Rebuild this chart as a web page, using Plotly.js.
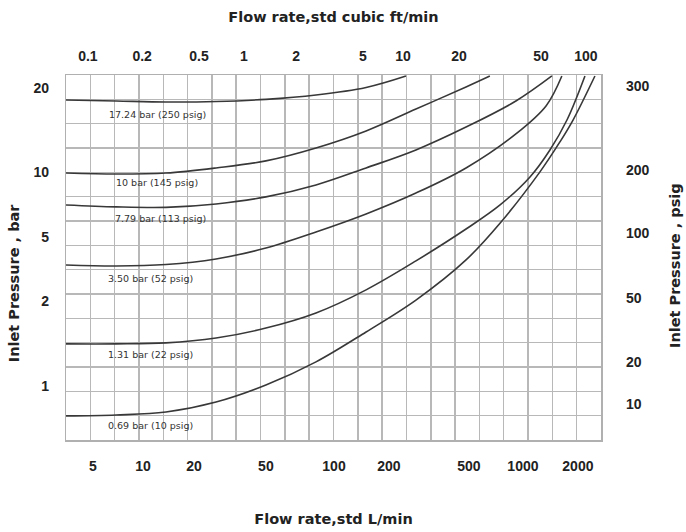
<!DOCTYPE html>
<html>
<head>
<meta charset="utf-8">
<script src="https://cdn.plot.ly/plotly-3.0.1.min.js"></script>
<style>html,body{margin:0;padding:0;background:#fff;}#chart{width:686px;height:532px;}</style>
</head>
<body>
<div id="chart"></div>
<script>
// Chart grid: 22 columns x 15 rows (schematic chart, values read in grid units)
const curveNames = ["17.24 bar (250 psig)", "10 bar (145 psig)", "7.79 bar (113 psig)", "3.50 bar (52 psig)", "1.31 bar (22 psig)", "0.69 bar (10 psig)"];

const c1x = [0, 2.06, 4.11, 6.17, 8.22, 10.28, 12.34, 13.98];
const c1y = [13.97, 13.93, 13.89, 13.91, 14.00, 14.18, 14.49, 14.96];

const c2x = [0, 2.06, 4.11, 6.17, 8.22, 10.28, 12.34, 14.39, 16.45, 17.43];
const c2y = [10.97, 10.93, 10.97, 11.18, 11.47, 12.00, 12.70, 13.60, 14.51, 14.96];

const c3x = [0, 2.06, 4.11, 6.17, 8.22, 10.28, 12.34, 14.39, 16.45, 18.50, 19.98];
const c3y = [9.66, 9.58, 9.56, 9.70, 9.99, 10.48, 11.18, 11.92, 12.86, 13.93, 14.96];

const c4x = [0, 2.06, 4.11, 6.17, 8.22, 10.28, 12.34, 14.39, 16.45, 18.50, 19.74, 20.39];
const c4y = [7.19, 7.15, 7.21, 7.44, 7.89, 8.55, 9.29, 10.15, 11.18, 12.58, 13.73, 14.96];

const c5x = [0, 2.06, 4.11, 6.17, 8.22, 10.28, 12.34, 14.39, 16.45, 17.85, 19.08, 19.90, 20.60, 21.34];
const c5y = [3.95, 3.95, 3.99, 4.19, 4.60, 5.22, 6.17, 7.36, 8.67, 9.66, 10.81, 11.92, 13.15, 14.96];

const c6x = [0, 2.06, 4.11, 6.17, 8.22, 10.28, 12.34, 14.39, 16.45, 17.89, 19.49, 20.31, 20.85, 21.75];
const c6y = [0.99, 1.03, 1.15, 1.56, 2.26, 3.21, 4.44, 5.75, 7.40, 8.96, 11.02, 12.25, 13.15, 14.96];

// curve label anchor positions (grid units)
const labelX = [3.76, 3.75, 3.87, 3.46, 3.46, 3.46];
const labelY = [13.36, 10.60, 9.12, 6.62, 3.53, 0.58];

// Tick labels and their grid positions
const lminLabels = ["5", "10", "20", "50", "100", "200", "500", "1000", "2000"];
const lminPos = [1.11, 3.17, 5.26, 8.22, 11.02, 13.28, 16.57, 18.79, 21.05];
const cfmLabels = ["0.1", "0.2", "0.5", "1", "2", "5", "10", "20", "50", "100"];
const cfmPos = [0.90, 3.13, 5.47, 7.32, 9.46, 12.21, 13.86, 16.16, 19.53, 21.38];
const barLabels = ["20", "10", "5", "2", "1"];
const barPos = [14.47, 11.02, 8.34, 5.71, 2.22];
const psigLabels = ["300", "200", "100", "50", "20", "10"];
const psigPos = [14.55, 11.10, 8.51, 5.84, 3.21, 1.48];

const curvesX = [c1x, c2x, c3x, c4x, c5x, c6x];
const curvesY = [c1y, c2y, c3y, c4y, c5y, c6y];

const FONT = "Liberation Sans, Arial, sans-serif";
const WIDE = "DejaVu Sans, Verdana, sans-serif";
const traces = curvesX.map((xs, i) => ({
  x: xs, y: curvesY[i], type: "scatter", mode: "lines", name: curveNames[i],
  line: {color: "#383838", width: 1.6, shape: "spline", smoothing: 1},
  xaxis: "x", yaxis: "y", showlegend: false, hoverinfo: "skip"
}));
traces.push({x: [], y: [], type: "scatter", mode: "lines", xaxis: "x2", yaxis: "y2", showlegend: false});
traces.push({x: [], y: [], type: "scatter", mode: "lines", xaxis: "x3", yaxis: "y3", showlegend: false});

const annotations = curveNames.map((t, i) => ({
  x: labelX[i], y: labelY[i], xref: "x", yref: "y", text: t, showarrow: false,
  font: {family: WIDE, size: 9.5, color: "#333"}, xanchor: "center", yanchor: "middle"
}));
const titleFont = {family: WIDE, size: 14.5, color: "#222", weight: "bold"};
annotations.push({xref: "paper", yref: "paper", x: -0.097, y: 0.43, text: "Inlet Pressure , bar",
  textangle: -90, showarrow: false, font: titleFont, xanchor: "center", yanchor: "middle"});
annotations.push({xref: "paper", yref: "paper", x: 1.138, y: 0.479, text: "Inlet Pressure , psig",
  textangle: -90, showarrow: false, font: titleFont, xanchor: "center", yanchor: "middle"});

const tickFont = {family: FONT, size: 14, color: "#222", weight: "bold"};
const gridStyle = {showgrid: true, gridcolor: "#b8b8b8", gridwidth: 1.5, showticklabels: false, ticks: "",
  zeroline: false, showline: true, mirror: true, linecolor: "#b0b0b0", linewidth: 1.5, fixedrange: true};
const layout = {
  width: 686, height: 532,
  margin: {l: 66, r: 85, t: 75, b: 92},
  paper_bgcolor: "#fff", plot_bgcolor: "#fff",
  showlegend: false,
  xaxis: Object.assign({range: [0, 22], tick0: 0, dtick: 1}, gridStyle),
  yaxis: Object.assign({range: [0, 15], tick0: 0, dtick: 1}, gridStyle),
  xaxis2: {overlaying: "x", anchor: "y", side: "bottom", range: [0, 22], tickmode: "array", tickvals: lminPos, ticktext: lminLabels,
    showgrid: false, zeroline: false, ticks: "", tickfont: tickFont, ticklabelstandoff: 16,
    title: {text: "Flow rate,std L/min", font: titleFont, standoff: 40}},
  xaxis3: {overlaying: "x", anchor: "y", side: "top", range: [0, 22], tickmode: "array", tickvals: cfmPos, ticktext: cfmLabels,
    showgrid: false, zeroline: false, ticks: "", tickfont: tickFont, ticklabelstandoff: 10,
    title: {text: "Flow rate,std cubic ft/min", font: titleFont, standoff: 22}},
  yaxis2: {overlaying: "y", anchor: "x", side: "left", range: [0, 15], tickmode: "array", tickvals: barPos, ticktext: barLabels,
    showgrid: false, zeroline: false, ticks: "", tickfont: tickFont, ticklabelstandoff: 16},
  yaxis3: {overlaying: "y", anchor: "x", side: "right", range: [0, 15], tickmode: "array", tickvals: psigPos, ticktext: psigLabels,
    showgrid: false, zeroline: false, ticks: "", tickfont: tickFont, ticklabelstandoff: 24},
  annotations: annotations
};
Plotly.newPlot("chart", traces, layout, {displayModeBar: false, staticPlot: true});
</script>
</body>
</html>
